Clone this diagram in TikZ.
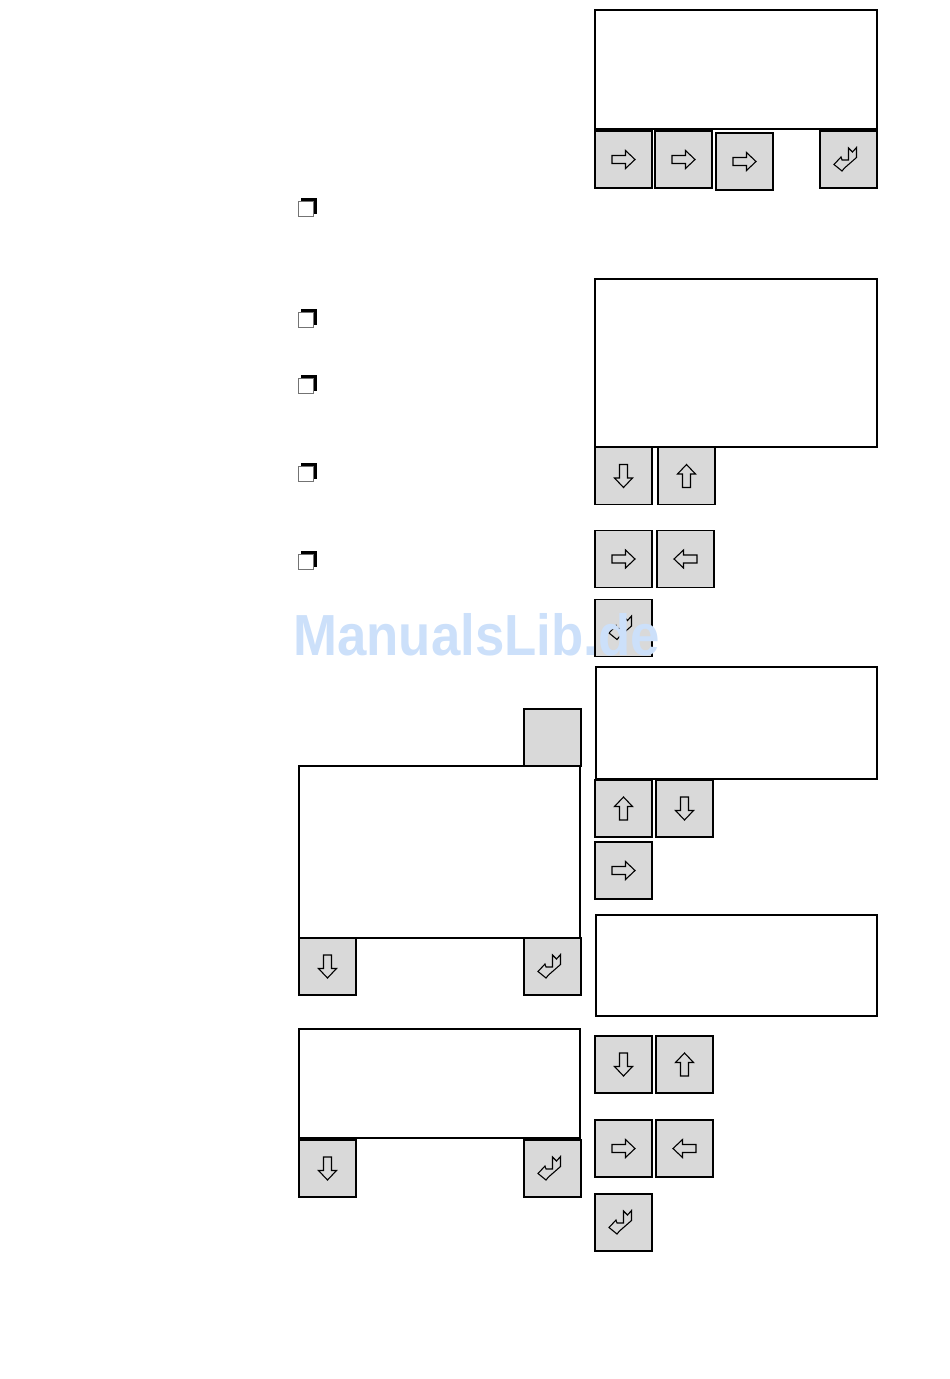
\documentclass[tikz,border=0pt]{standalone}
\usepackage{fontspec}
\usepackage{tikz}
\usetikzlibrary{shadows}
\newfontfamily\wmfont{Liberation Sans}
\definecolor{keygray}{RGB}{217,217,217}
\definecolor{wmblue}{RGB}{204,224,250}

\begin{document}
\begin{tikzpicture}[x=1pt, y=-1pt,
    display/.style={draw, line width=1.1pt, inner sep=0pt},
    keybox/.style={draw, fill=keygray, line width=1.1pt, minimum size=57pt, inner sep=0pt},
    chkbox/.style={draw=black!55, fill=white, line width=0.7pt, minimum size=15pt, inner sep=0pt,
        copy shadow={shadow xshift=3pt, shadow yshift=3pt, fill=black, draw=black}},
    glyph/.style={draw, line width=1.1pt, line join=miter},
    rarr/.pic={\path[glyph] (-11.5,-4) -- (2,-4) -- (2,-9) -- (11.5,0) -- (2,9) -- (2,4) -- (-11.5,4) -- cycle;},
    larr/.pic={\path[glyph] (11.5,-4) -- (-2,-4) -- (-2,-9) -- (-11.5,0) -- (-2,9) -- (-2,4) -- (11.5,4) -- cycle;},
    darr/.pic={\path[glyph] (-4,-11.5) -- (4,-11.5) -- (4,2) -- (9,2) -- (0,11.5) -- (-9,2) -- (-4,2) -- cycle;},
    uarr/.pic={\path[glyph] (-4,11.5) -- (4,11.5) -- (4,-2) -- (9,-2) -- (0,-11.5) -- (-9,-2) -- (-4,-2) -- cycle;},
    enterarr/.pic={\path[glyph] (0,-11.5) -- (4,-7.5) -- (8,-12) -- (8,-2) -- (-4,8.5) -- (-6.5,11.5)
        -- (-14.5,5) -- (-7.5,-2.5) -- (-6.5,0.5) -- (0,0.5) -- cycle;}]
    \useasboundingbox (0,0) rectangle (950,1379);

    % Displays
    \node[display, minimum width=282pt, minimum height=119pt] (disp1) at (736,69.5) {};
    \node[display, minimum width=282pt, minimum height=168pt] (disp2) at (736,363) {};
    \node[display, minimum width=281pt, minimum height=112pt] (disp3) at (736.5,723) {};
    \node[display, minimum width=281pt, minimum height=101pt] (disp4) at (736.5,965.5) {};
    \node[display, minimum width=281pt, minimum height=172pt] (disp5) at (439.5,852) {};
    \node[display, minimum width=281pt, minimum height=109pt] (disp6) at (439.5,1083.5) {};

    % Keys under first display
    \node[keybox] (ka1) at (623.5,159.5) {};
    \node[keybox] (ka2) at (683.5,159.5) {};
    \node[keybox] (ka3) at (744.5,161.5) {};
    \node[keybox] (ka4) at (848.5,159.5) {};
    \pic at (ka1) {rarr};
    \pic at (ka2) {rarr};
    \pic at (ka3) {rarr};
    \pic at (ka4) {enterarr};

    % Check boxes
    \node[chkbox] (c1) at (306,209) {};
    \node[chkbox] (c2) at (306,320) {};
    \node[chkbox] (c3) at (306,386) {};
    \node[chkbox] (c4) at (306,474) {};
    \node[chkbox] (c5) at (306,562) {};

    % Keys under second display
    \node[keybox] (kb1) at (623.5,476) {};
    \node[keybox] (kb2) at (686.5,476) {};
    \node[keybox] (kb3) at (623.5,559) {};
    \node[keybox] (kb4) at (685.5,559) {};
    \node[keybox] (kb5) at (623.5,628) {};
    \pic at (kb1) {darr};
    \pic at (kb2) {uarr};
    \pic at (kb3) {rarr};
    \pic at (kb4) {larr};
    \pic at (kb5) {enterarr};

    % Keys beside third display
    \node[keybox] (kc1) at (623.5,808.5) {};
    \node[keybox] (kc2) at (684.5,808.5) {};
    \node[keybox] (kc3) at (623.5,870.5) {};
    \pic at (kc1) {uarr};
    \pic at (kc2) {darr};
    \pic at (kc3) {rarr};

    % Keys beside fourth display
    \node[keybox] (kd1) at (623.5,1064.5) {};
    \node[keybox] (kd2) at (684.5,1064.5) {};
    \node[keybox] (kd3) at (623.5,1148.5) {};
    \node[keybox] (kd4) at (684.5,1148.5) {};
    \node[keybox] (kd5) at (623.5,1222.5) {};
    \pic at (kd1) {darr};
    \pic at (kd2) {uarr};
    \pic at (kd3) {rarr};
    \pic at (kd4) {larr};
    \pic at (kd5) {enterarr};

    % Left displays and their keys
    \node[keybox] (ke0) at (552.5,737.5) {};
    \node[keybox] (ke1) at (327.5,966.5) {};
    \node[keybox] (ke2) at (552.5,966.5) {};
    \pic at (ke1) {darr};
    \pic at (ke2) {enterarr};
    \node[keybox] (kf1) at (327.5,1168.5) {};
    \node[keybox] (kf2) at (552.5,1168.5) {};
    \pic at (kf1) {darr};
    \pic at (kf2) {enterarr};

    % Watermark
    \node[text=wmblue, font=\wmfont\bfseries\fontsize{58}{58}\selectfont, anchor=base, inner sep=0pt]
        (wm) at (476.7,655) {\scalebox{0.91}[1]{ManualsLib.de}};
\end{tikzpicture}
\end{document}
